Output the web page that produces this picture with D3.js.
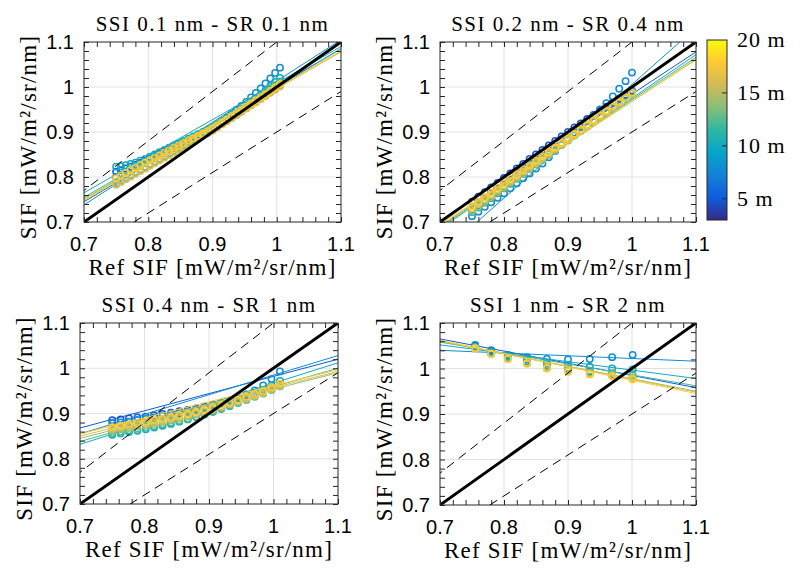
<!DOCTYPE html>
<html><head><meta charset="utf-8">
<script src="https://cdn.jsdelivr.net/npm/d3@7"></script>
<style>body{margin:0;background:#fff}svg{display:block}</style>
</head><body>
<svg id="c" width="800" height="581"></svg>
<script>
const heights = [5, 8, 10, 12, 14, 16, 18];
const titles = ["SSI 0.1 nm - SR 0.1 nm", "SSI 0.2 nm - SR 0.4 nm", "SSI 0.4 nm - SR 1 nm", "SSI 1 nm - SR 2 nm"];
const axisTicks = [0.7, 0.8, 0.9, 1, 1.1];
const tickLabels = ["0.7", "0.8", "0.9", "1", "1.1"];
const gridVals = [0.8, 0.9, 1.0];
const dashedSlopes = [1.1, 0.9];
const cbTicks = [5, 10, 15, 20];
const cbLabels = ["5 m", "10 m", "15 m", "20 m"];
const cbDomain = [3, 20];
const xLabel = "Ref SIF [mW/m²/sr/nm]";
const yLabel = "SIF [mW/m²/sr/nm]";

const p1X = [0.75,0.7575,0.765,0.7725,0.78,0.7875,0.795,0.8025,0.81,0.8175,0.825,0.8325,0.84,0.8475,0.855,0.8625,0.87,0.8775,0.885,0.8925,0.9,0.9075,0.915,0.9225,0.93,0.9375,0.945,0.9525,0.96,0.9675,0.975,0.9825,0.99,0.9975,1.005];
const p1Y = [
 [0.812,0.815,0.819,0.823,0.827,0.831,0.836,0.841,0.846,0.851,0.856,0.861,0.866,0.871,0.876,0.881,0.886,0.891,0.896,0.901,0.907,0.913,0.919,0.925,0.932,0.939,0.946,0.953,0.961,0.969,0.977,0.985,0.994,1.003,1.012],
 [0.800,0.805,0.810,0.815,0.820,0.826,0.831,0.837,0.842,0.848,0.853,0.859,0.864,0.870,0.875,0.881,0.886,0.892,0.898,0.904,0.910,0.917,0.924,0.932,0.940,0.949,0.958,0.967,0.977,0.987,0.997,1.008,1.019,1.031,1.043],
 [0.823,0.824,0.826,0.829,0.832,0.836,0.840,0.845,0.850,0.855,0.860,0.865,0.870,0.875,0.880,0.885,0.890,0.895,0.900,0.905,0.910,0.916,0.922,0.929,0.936,0.943,0.951,0.959,0.967,0.975,0.984,0.993,1.002,1.011,1.020],
 [0.787,0.793,0.799,0.805,0.811,0.817,0.823,0.829,0.835,0.841,0.847,0.853,0.859,0.865,0.871,0.877,0.883,0.889,0.895,0.901,0.907,0.914,0.921,0.928,0.935,0.942,0.950,0.957,0.965,0.972,0.980,0.988,0.996,1.004,1.012],
 [0.786,0.792,0.798,0.804,0.810,0.816,0.822,0.828,0.834,0.840,0.846,0.852,0.858,0.864,0.870,0.876,0.882,0.888,0.894,0.900,0.906,0.913,0.920,0.927,0.934,0.941,0.948,0.955,0.962,0.969,0.976,0.983,0.990,0.997,1.004],
 [0.783,0.789,0.795,0.801,0.807,0.813,0.819,0.825,0.831,0.837,0.843,0.849,0.855,0.861,0.867,0.873,0.879,0.885,0.891,0.897,0.903,0.910,0.917,0.924,0.931,0.938,0.945,0.952,0.959,0.966,0.973,0.980,0.987,0.994,1.001],
 [0.797,0.803,0.809,0.815,0.820,0.826,0.832,0.837,0.843,0.848,0.854,0.859,0.865,0.870,0.875,0.881,0.886,0.891,0.897,0.902,0.908,0.914,0.921,0.928,0.935,0.942,0.949,0.956,0.963,0.970,0.977,0.984,0.991,0.999,1.007]
];
const p1Fit = [[0.745,1.085],[0.738,1.105],[0.765,1.09],[0.755,1.085],[0.752,1.08],[0.75,1.078],[0.748,1.08]];

const p2X = [0.75,0.76,0.77,0.78,0.79,0.80,0.81,0.82,0.83,0.84,0.85,0.86,0.87,0.88,0.89,0.90,0.91,0.92,0.93,0.94,0.95,0.96,0.97,0.98,0.99,1.00];
const p2Y = [
 [0.745,0.756,0.766,0.777,0.787,0.798,0.808,0.819,0.829,0.840,0.850,0.860,0.870,0.880,0.890,0.900,0.910,0.919,0.929,0.938,0.947,0.956,0.965,0.974,0.983,0.992],
 [0.713,0.723,0.734,0.744,0.754,0.764,0.775,0.786,0.797,0.808,0.819,0.830,0.844,0.858,0.872,0.885,0.898,0.911,0.924,0.937,0.950,0.964,0.979,0.996,1.013,1.032],
 [0.722,0.732,0.743,0.753,0.764,0.775,0.785,0.796,0.807,0.818,0.828,0.839,0.850,0.861,0.872,0.882,0.893,0.904,0.914,0.925,0.935,0.946,0.957,0.968,0.979,0.990],
 [0.728,0.738,0.749,0.759,0.770,0.780,0.791,0.801,0.812,0.822,0.833,0.843,0.854,0.864,0.874,0.885,0.895,0.905,0.916,0.926,0.936,0.946,0.957,0.967,0.977,0.988],
 [0.724,0.734,0.745,0.755,0.766,0.776,0.787,0.797,0.808,0.818,0.829,0.839,0.850,0.860,0.871,0.881,0.892,0.902,0.912,0.923,0.933,0.943,0.954,0.964,0.975,0.985],
 [0.730,0.740,0.750,0.760,0.771,0.781,0.791,0.801,0.812,0.822,0.832,0.842,0.853,0.863,0.873,0.883,0.894,0.904,0.914,0.924,0.935,0.945,0.955,0.965,0.976,0.986],
 [0.735,0.745,0.755,0.765,0.776,0.786,0.796,0.806,0.816,0.826,0.836,0.846,0.856,0.866,0.876,0.886,0.896,0.906,0.916,0.926,0.937,0.947,0.957,0.967,0.977,0.987]
];
const p2Fit = [[0.703,1.078],[0.627,1.132],[0.685,1.072],[0.69,1.066],[0.688,1.062],[0.692,1.061],[0.695,1.06]];

const p3X = [0.750,0.763,0.776,0.789,0.802,0.815,0.828,0.841,0.854,0.867,0.880,0.893,0.906,0.919,0.932,0.945,0.958,0.971,0.984,0.997,1.010];
const p3Y = [
 [0.885,0.887,0.889,0.891,0.893,0.896,0.899,0.902,0.905,0.908,0.911,0.915,0.919,0.923,0.928,0.933,0.938,0.944,0.950,0.957,0.964],
 [0.878,0.880,0.882,0.885,0.888,0.891,0.894,0.897,0.900,0.904,0.908,0.912,0.917,0.922,0.928,0.935,0.942,0.951,0.962,0.976,0.993],
 [0.853,0.856,0.859,0.862,0.865,0.869,0.873,0.877,0.882,0.887,0.892,0.898,0.904,0.911,0.918,0.926,0.934,0.943,0.952,0.962,0.972],
 [0.857,0.860,0.863,0.866,0.869,0.872,0.876,0.880,0.884,0.888,0.893,0.898,0.904,0.910,0.916,0.923,0.930,0.937,0.944,0.952,0.960],
 [0.862,0.865,0.868,0.871,0.874,0.877,0.881,0.885,0.889,0.893,0.898,0.903,0.908,0.914,0.920,0.926,0.932,0.939,0.946,0.953,0.960],
 [0.866,0.869,0.872,0.875,0.878,0.881,0.884,0.888,0.892,0.896,0.900,0.905,0.910,0.915,0.921,0.927,0.933,0.939,0.946,0.954,0.962],
 [0.870,0.873,0.876,0.879,0.882,0.885,0.888,0.892,0.896,0.900,0.904,0.909,0.914,0.919,0.925,0.931,0.937,0.943,0.950,0.958,0.966]
];
const p3Fit = [[0.868,1.02],[0.855,1.028],[0.832,1.012],[0.838,1.0],[0.845,0.99],[0.85,0.993],[0.855,0.997]];

const p4X = [0.755,0.78,0.806,0.836,0.867,0.9,0.934,0.969,1.001];
const p4Y = [
 [1.050,1.038,1.027,1.016,1.007,1.000,0.993,0.986,0.980],
 [1.052,1.040,1.030,1.025,1.021,1.020,1.021,1.025,1.030],
 [1.048,1.036,1.027,1.020,1.012,1.008,1.004,1.000,0.998],
 [1.046,1.034,1.024,1.015,1.006,1.000,0.995,0.990,0.986],
 [1.045,1.033,1.022,1.012,1.003,0.996,0.990,0.985,0.980],
 [1.044,1.032,1.021,1.011,1.001,0.994,0.988,0.984,0.978],
 [1.044,1.032,1.021,1.011,1.000,0.993,0.987,0.983,0.976]
];
const p4Fit = [[1.065,0.958],[1.04,1.016],[1.052,0.978],[1.058,0.962],[1.06,0.95],[1.061,0.948],[1.062,0.945]];

const parulaStops = ["#352a87","#0f5cdd","#1481d6","#06a4ca","#2eb7a4","#87bf77","#d1bb59","#fec832","#f9fb0e"];
const parula = d3.scaleLinear().domain(parulaStops.map((d,i)=>i/(parulaStops.length-1))).range(parulaStops).interpolate(d3.interpolateRgb);
const color = h => parula((h - cbDomain[0]) / (cbDomain[1] - cbDomain[0]));

const svg = d3.select("#c");
const defs = svg.append("defs");
const SERIF = "'Liberation Serif', 'Times New Roman', serif";
const SANS = "'Liberation Sans', Arial, sans-serif";
const AX = "#262626";

const panels = [
  {X:p1X, Y:p1Y, F:p1Fit, box:[84,341,42,222]},
  {X:p2X, Y:p2Y, F:p2Fit, box:[440,696,42,222]},
  {X:p3X, Y:p3Y, F:p3Fit, box:[80,338,323,504]},
  {X:p4X, Y:p4Y, F:p4Fit, box:[440,696,323,505]}
];
const minorTicks = d3.range(0, 21).map(i => +(0.7 + i*0.02).toFixed(2));

panels.forEach((p, i) => {
  const [l, r, t, b] = p.box;
  const x = d3.scaleLinear().domain([0.7, 1.1]).range([l, r]);
  const y = d3.scaleLinear().domain([0.7, 1.1]).range([b, t]);
  defs.append("clipPath").attr("id", "clip"+i).append("rect")
    .attr("x", l).attr("y", t).attr("width", r-l).attr("height", b-t);
  const g = svg.append("g");
  g.selectAll(null).data(gridVals).join("line")
    .attr("x1", d=>x(d)).attr("x2", d=>x(d)).attr("y1", t).attr("y2", b)
    .attr("stroke", "#e1e1e1").attr("stroke-width", 1);
  g.selectAll(null).data(gridVals).join("line")
    .attr("y1", d=>y(d)).attr("y2", d=>y(d)).attr("x1", l).attr("x2", r)
    .attr("stroke", "#e1e1e1").attr("stroke-width", 1);
  const dg = g.append("g").attr("clip-path", `url(#clip${i})`);
  heights.forEach((h, k) => {
    const c = color(h);
    dg.append("g").selectAll("circle").data(p.X.map((xv, j) => [xv, p.Y[k][j]])).join("circle")
      .attr("cx", d=>x(d[0])).attr("cy", d=>y(d[1])).attr("r", 3.2)
      .attr("fill", "none").attr("stroke", c).attr("stroke-width", 1.5);
    dg.append("line").attr("x1", x(0.7)).attr("y1", y(p.F[k][0]))
      .attr("x2", x(1.1)).attr("y2", y(p.F[k][1]))
      .attr("stroke", c).attr("stroke-width", 1);
  });
  dg.append("line").attr("x1", x(0.7)).attr("y1", y(0.7)).attr("x2", x(1.1)).attr("y2", y(1.1))
    .attr("stroke", "#000").attr("stroke-width", 3);
  dashedSlopes.forEach(s => {
    dg.append("line").attr("x1", x(0.6)).attr("y1", y(0.6*s)).attr("x2", x(1.2)).attr("y2", y(1.2*s))
      .attr("stroke", "#000").attr("stroke-width", 1).attr("stroke-dasharray", "9,6");
  });
  const mk = (axisFn, scale, tr) => svg.append("g").attr("transform", tr)
      .call(axisFn(scale).tickValues(minorTicks).tickSize(-5).tickFormat(""))
      .call(a => { a.select(".domain").remove(); a.selectAll("line").attr("stroke", AX); });
  mk(d3.axisBottom, x, `translate(0,${b})`);
  mk(d3.axisTop, x, `translate(0,${t})`);
  mk(d3.axisLeft, y, `translate(${l},0)`);
  mk(d3.axisRight, y, `translate(${r},0)`);
  svg.append("rect").attr("x", l).attr("y", t).attr("width", r-l).attr("height", b-t)
    .attr("fill", "none").attr("stroke", AX).attr("stroke-width", 1);
  svg.append("g").selectAll("text").data(axisTicks).join("text")
    .attr("x", d=>x(d)).attr("y", b+29).attr("text-anchor", "middle")
    .attr("font-family", SANS).attr("font-size", 20).attr("fill", "#000")
    .text((d, j) => tickLabels[j]);
  svg.append("g").selectAll("text").data(axisTicks).join("text")
    .attr("x", l-10).attr("y", d=>y(d)+7).attr("text-anchor", "end")
    .attr("font-family", SANS).attr("font-size", 20).attr("fill", "#000")
    .text((d, j) => tickLabels[j]);
  svg.append("text").attr("x", (l+r)/2).attr("y", t-11).attr("text-anchor", "middle")
    .attr("font-family", SERIF).attr("font-size", 21).attr("letter-spacing", 1.5).text(titles[i]);
  svg.append("text").attr("x", (l+r)/2).attr("y", b+53).attr("text-anchor", "middle")
    .attr("font-family", SERIF).attr("font-size", 23).attr("letter-spacing", 1.2).text(xLabel);
  svg.append("text").attr("transform", `translate(${l-48},${(t+b)/2+5}) rotate(-90)`).attr("text-anchor", "middle")
    .attr("font-family", SERIF).attr("font-size", 23).attr("letter-spacing", 1.2).text(yLabel);
});

const cbX = 707, cbW = 20, cbTop = 40, cbBot = 220;
const cy = d3.scaleLinear().domain(cbDomain).range([cbBot, cbTop]);
const grad = defs.append("linearGradient").attr("id", "cbgrad").attr("x1", 0).attr("y1", 1).attr("x2", 0).attr("y2", 0);
grad.selectAll("stop").data(parulaStops).join("stop")
  .attr("offset", (d, i) => i/(parulaStops.length-1)).attr("stop-color", d => d);
svg.append("rect").attr("x", cbX).attr("y", cbTop).attr("width", cbW).attr("height", cbBot-cbTop)
  .attr("fill", "url(#cbgrad)").attr("stroke", AX).attr("stroke-width", 1);
svg.append("g").selectAll("line").data(cbTicks.filter(v => v < cbDomain[1])).join("line")
  .attr("x1", cbX+cbW-5).attr("x2", cbX+cbW).attr("y1", d=>cy(d)).attr("y2", d=>cy(d))
  .attr("stroke", AX).attr("stroke-width", 1);
svg.append("g").selectAll("text").data(cbTicks).join("text")
  .attr("x", cbX+cbW+10).attr("y", d=>cy(d)+7)
  .attr("font-family", SERIF).attr("font-size", 22).attr("letter-spacing", 1)
  .text((d, i) => cbLabels[i]);
</script>
</body></html>
